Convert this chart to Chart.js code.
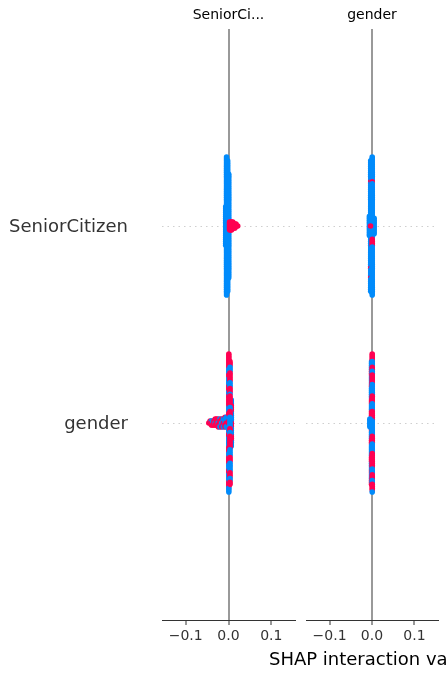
<!DOCTYPE html>
<html><head><meta charset="utf-8">
<script src="https://cdn.jsdelivr.net/npm/chart.js@4/dist/chart.umd.min.js"></script>
<style>
html,body{margin:0;padding:0;background:#fff;overflow:hidden;}
#p1{position:absolute;left:0;top:0;width:300px;height:680px;}
#p2{position:absolute;left:200px;top:0;width:247px;height:680px;}
</style></head><body>
<div id="p1"><canvas id="c1"></canvas></div>
<div id="p2"><canvas id="c2"></canvas></div>
<script>
// ---- labels / ticks ----
const panelTitles = ["SeniorCi...", "gender"];
const featureNames = ["gender", "SeniorCitizen"];   // row value 0, 1
const featureRows = [0, 1];
const xTicks = [-0.1, 0, 0.1];
const xLimit = 0.1555;
const xLabelText = "SHAP interaction value";
const lowColor = "#008bfb", highColor = "#ff0052";

// ---- data: SHAP interaction values per bin, with feature values (b = low, r = high) listed top to bottom ----
// Panel 1 (SeniorCitizen), row SeniorCitizen
const p1ScX = [-0.0065, -0.0045, -0.002, 0.0005, 0.0025, 0.005, 0.0075, 0.010, 0.0125, 0.015, 0.0175, 0.0195, 0.0215];
const p1ScV = ["b21", "b73", "b69", "b55", "r5", "r5", "r5", "r4", "r3", "r3", "r2", "r1", "r1"];
// Panel 1 (SeniorCitizen), row gender
const p1GX = [-0.046, -0.043, -0.040, -0.037, -0.034, -0.031, -0.028, -0.024, -0.020, -0.016, -0.012, -0.008, -0.005,
              0.0065, 0.0008, 0.0035];
const p1GV = ["r1", "r2", "b1r2", "b2r1", "r3", "r2b1r1", "r4", "r2b1r2", "b1r3b1", "r2b2r1", "b2r2b1", "r1b3r2", "b3r2b1",
              "b3r4b5r3b4r3b3",
              "r8b3r2b4r3b2r6b3r2b2r3b4r2b5r3b2r4b3r2b4r3b3",
              "r3b3r5b3r3b1r6b2r3b6r2b2r7b4r3b5r3b2r2"];
// Panel 2 (gender), row SeniorCitizen
const p2ScX = [-0.003, -0.006, 0.005, 0.0005, -0.0035];
const p2ScV = ["b11r1b44r1b4r1b7", "b11", "b9", "b13r1b29r4b26", "r1"];
// Panel 2 (gender), row gender
const p2GX = [-0.001, 0.0005, -0.005];
const p2GV = ["b5r3b4r2b6r3b3r4b5r2b4r3b6r3b4r2b3r3",
              "r4b3r2b2r5b6r4b4r5b8r4b5r8b3r3b2r4b1",
              "b5"];

// ---- beeswarm layout (as in shap summary plot) ----
function expand(code) {
  const out = [];
  code.replace(/([rb])(\d+)/g, (m, c, n) => { for (let i = 0; i < +n; i++) out.push(c); return m; });
  return out;
}
function buildRow(rowY, xs, vs, pts, cols) {
  const bins = xs.map((x, k) => {
    const c = expand(vs[k]);
    const offs = [];
    for (let l = 0; l < c.length; l++) offs.push(Math.ceil(l / 2) * ((l % 2) * 2 - 1));
    offs.sort((a, b) => b - a);
    return { x, c, offs };
  });
  let maxOff = 0;
  bins.forEach(b => b.offs.forEach(o => { if (o > maxOff) maxOff = o; }));
  const scale = 0.9 * 0.4 / (maxOff + 1);
  bins.forEach(b => b.c.forEach((c, i) => {
    pts.push({ x: b.x, y: rowY + b.offs[i] * scale });
    cols.push(c === "r" ? highColor : lowColor);
  }));
}
function panelData(rows) {
  const pts = [], cols = [];
  rows.forEach(r => buildRow(r.y, r.xs, r.vs, pts, cols));
  return { pts, cols };
}
const fmt = v => (v < 0 ? "\u2212" + Math.abs(v).toFixed(1) : v.toFixed(1));
const FONT = "'DejaVu Sans'";

function makeChart(id, title, rows, opt) {
  const d = panelData(rows);
  return new Chart(document.getElementById(id), {
    type: "scatter",
    data: { datasets: [{ data: d.pts, pointBackgroundColor: d.cols, pointBorderWidth: 0,
      pointRadius: 2.8, pointHoverRadius: 2.8 }] },
    options: {
      responsive: true, maintainAspectRatio: false, animation: false, devicePixelRatio: 1, events: [],
      layout: { padding: { left: opt.padL, right: opt.padR, top: 0, bottom: 0 } },
      plugins: { legend: { display: false }, tooltip: { enabled: false } },
      scales: {
        x: { type: "linear", position: "bottom", min: -xLimit, max: xLimit,
          afterBuildTicks: s => { s.ticks = xTicks.map(v => ({ value: v })); },
          afterFit: s => { s.height = 60; },
          ticks: { autoSkip: false, maxRotation: 0, padding: 3, color: "#333", font: { family: FONT, size: 14 }, callback: v => fmt(v) },
          grid: { color: c => (c.tick && c.tick.value === 0) ? "#999999" : "rgba(0,0,0,0)", lineWidth: 2,
                  tickColor: "#333", tickWidth: 1, tickLength: 5 },
          border: { display: true, color: "#333", width: 1 } },
        xTop: { type: "linear", position: "top", min: -xLimit, max: xLimit,
          ticks: { display: false }, grid: { display: false }, border: { display: false },
          title: { display: true, text: title, color: "#000", font: { family: FONT, size: 14 }, padding: { top: 7, bottom: 0 } },
          afterFit: s => { s.height = 29; } },
        y: { type: "linear", min: -1, max: 2,
          afterBuildTicks: s => { s.ticks = featureRows.map(v => ({ value: v })); },
          afterFit: s => { s.width = opt.yW; s.paddingTop = 0; s.paddingBottom = 0; },
          ticks: { display: opt.showY, padding: 34, labelOffset: 1.5, color: "#333", font: { family: FONT, size: 18 }, callback: v => featureNames[v] ?? "" },
          grid: { color: "#cfcfcf", lineWidth: 1, drawTicks: false },
          border: { display: false, dash: [1.5, 4] } }
      }
    },
    plugins: opt.xlabel ? [{ id: "xlabel", afterDraw(chart) {
      const { ctx, chartArea } = chart;
      ctx.save();
      ctx.font = "18px " + FONT; ctx.fillStyle = "#000"; ctx.textAlign = "center"; ctx.textBaseline = "alphabetic";
      ctx.fillText(xLabelText, (chartArea.left + chartArea.right) / 2, 665);
      ctx.restore();
    } }] : []
  });
}

makeChart("c1", panelTitles[0], [{ y: 1, xs: p1ScX, vs: p1ScV }, { y: 0, xs: p1GX, vs: p1GV }],
  { padL: 0, padR: 5, yW: 162, showY: true, xlabel: false });
makeChart("c2", panelTitles[1], [{ y: 1, xs: p2ScX, vs: p2ScV }, { y: 0, xs: p2GX, vs: p2GV }],
  { padL: 106, padR: 9, yW: 0, showY: false, xlabel: true });
</script></body></html>
